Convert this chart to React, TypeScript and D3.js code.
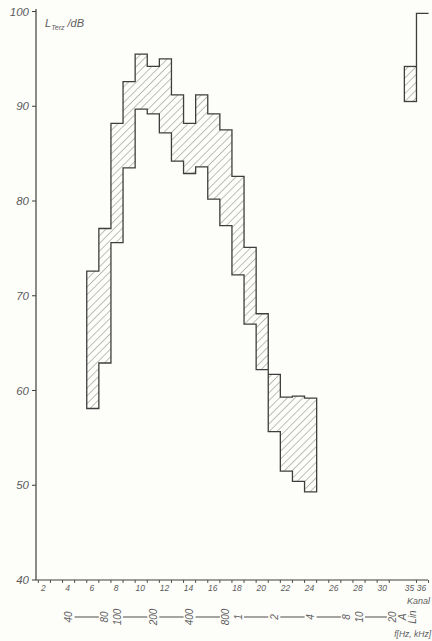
import React from "react";
import * as d3 from "d3";

// ---- data ----
const channels = [6, 7, 8, 9, 10, 11, 12, 13, 14, 15, 16, 17, 18, 19, 20, 21, 22, 23, 24];
const upperLevels = [72.6, 77.1, 88.2, 92.6, 95.5, 94.2, 95.0, 91.2, 88.2, 91.2, 89.2, 87.5, 82.6, 75.1, 68.1, 61.7, 59.3, 59.4, 59.2];
const lowerLevels = [58.1, 62.9, 75.6, 83.5, 89.7, 89.2, 87.2, 84.2, 82.9, 83.6, 80.2, 77.4, 72.2, 67.0, 62.2, 55.65, 51.5, 50.4, 49.3];
const weightedChannel = 35;
const weightedUpper = 94.2;
const weightedLower = 90.5;
const linChannel = 36;
const linUpper = 99.8;

const yTicks = [40, 50, 60, 70, 80, 90, 100];
const xTickLabels = [2, 4, 6, 8, 10, 12, 14, 16, 18, 20, 22, 24, 26, 28, 30, 35, 36];
const tickChannels = [1, 2, 3, 4, 5, 6, 7, 8, 9, 10, 11, 12, 13, 14, 15, 16, 17, 18, 19, 20, 21, 22, 23, 24, 25, 26, 27, 28, 29, 30, 35, 36];
const freqLabels = ["40", "80", "100", "200", "400", "800", "1", "2", "4", "8", "10", "20", "A", "Lin"];
const freqPositions = [4, 7, 8, 11, 14, 17, 18, 21, 24, 27, 28, 30.8, 31.6, 32.4];

const W = 432;
const H = 641;

// channel -> axis slot (gap between 30 and 35)
const slot = (k: number) => (k <= 30 ? k : k === 35 ? 32.25 : 33.25);

const x = d3.scaleLinear().domain([6, 24]).range([92.8, 310.6]);
const y = d3.scaleLinear().domain([40, 100]).range([580, 11.5]);

const FONT = "'Liberation Sans', 'DejaVu Sans', sans-serif";
const TEXT = "#5c5c5c";
const INK = "#3e3e3e";

export default function App() {
  // hatched band polygon
  const pts: [number, number][] = [];
  channels.forEach((k, i) => {
    pts.push([x(slot(k) - 0.5), y(upperLevels[i])]);
    pts.push([x(slot(k) + 0.5), y(upperLevels[i])]);
  });
  for (let i = channels.length - 1; i >= 0; i--) {
    const k = channels[i];
    pts.push([x(slot(k) + 0.5), y(lowerLevels[i])]);
    pts.push([x(slot(k) - 0.5), y(lowerLevels[i])]);
  }
  const line = d3.line<[number, number]>();
  const bandPath = line(pts) + "Z";

  const wx0 = x(slot(weightedChannel) - 0.5);
  const wx1 = x(slot(weightedChannel) + 0.5);
  const lx1 = x(slot(linChannel) + 0.5);

  const axisX = 36;
  const axisY = y(40);
  const freqY = 617;

  return (
    <svg
      width={W}
      height={H}
      viewBox={`0 0 ${W} ${H}`}
      style={{ position: "absolute", left: 0, top: 0, background: "#fdfdfa" }}
    >
      <defs>
        <pattern id="hatch" patternUnits="userSpaceOnUse" width="5.5" height="5.5" patternTransform="rotate(45)">
          <line x1="0" y1="0" x2="0" y2="5.5" stroke="#6f6f6f" strokeWidth="0.9" />
        </pattern>
      </defs>
      <rect width={W} height={H} fill="#fdfdfa" />

      {/* y axis */}
      <line x1={axisX} y1={9} x2={axisX} y2={axisY} stroke={INK} strokeWidth={1.2} />
      {yTicks.map((v) => (
        <g key={v}>
          <line x1={axisX - 4} x2={axisX} y1={y(v)} y2={y(v)} stroke={INK} strokeWidth={1} />
          <text
            x={axisX - 7}
            y={y(v) + 4}
            textAnchor="end"
            fontFamily={FONT}
            fontStyle="italic"
            fontSize={11.5}
            fill={TEXT}
          >
            {v}
          </text>
        </g>
      ))}
      <text x={45} y={27} fontFamily={FONT} fontStyle="italic" fontSize={11} fill={TEXT}>
        L
        <tspan fontSize={7} dy={3}>Terz</tspan>
        <tspan dy={-3}> /dB</tspan>
      </text>

      {/* x axis */}
      <line x1={axisX} y1={axisY} x2={428} y2={axisY} stroke={INK} strokeWidth={1.2} />
      {tickChannels.map((k) => (
        <line
          key={"t" + k}
          x1={x(slot(k) + 0.5)}
          x2={x(slot(k) + 0.5)}
          y1={axisY}
          y2={axisY + 3}
          stroke={INK}
          strokeWidth={0.9}
        />
      ))}
      {xTickLabels.map((k) => (
        <text
          key={"l" + k}
          x={x(slot(k)) - 1}
          y={591}
          textAnchor="middle"
          fontFamily={FONT}
          fontStyle="italic"
          fontSize={8.5}
          fill={TEXT}
        >
          {k}
        </text>
      ))}
      <text x={430} y={604} textAnchor="end" fontFamily={FONT} fontStyle="italic" fontSize={9} fill={TEXT}>
        Kanal
      </text>

      {/* frequency row */}
      {freqPositions.slice(0, -1).map((p, i) => {
        const a = x(p) + 6;
        const b = x(freqPositions[i + 1]) - 6;
        return b > a ? (
          <line key={"f" + i} x1={a} x2={b} y1={freqY} y2={freqY} stroke={TEXT} strokeWidth={1.1} />
        ) : null;
      })}
      {freqLabels.map((lab, i) => (
        <text
          key={"fl" + i}
          transform={`translate(${x(freqPositions[i]) + 3.5},${freqY}) rotate(-90)`}
          textAnchor="middle"
          fontFamily={FONT}
          fontStyle="italic"
          fontSize={10}
          fill={TEXT}
        >
          {lab}
        </text>
      ))}
      <text x={431} y={637} textAnchor="end" fontFamily={FONT} fontStyle="italic" fontSize={8.5} fill={TEXT}>
        f[Hz, kHz]
      </text>

      {/* hatched band */}
      <path d={bandPath} fill="url(#hatch)" stroke={INK} strokeWidth={1.3} strokeLinejoin="miter" />

      {/* channel 35 (A) bar and channel 36 line */}
      <rect
        x={wx0}
        y={y(weightedUpper)}
        width={wx1 - wx0}
        height={y(weightedLower) - y(weightedUpper)}
        fill="url(#hatch)"
        stroke={INK}
        strokeWidth={1.3}
      />
      <path
        d={`M${wx1},${y(weightedUpper)}V${y(linUpper)}H${lx1}`}
        fill="none"
        stroke={INK}
        strokeWidth={1.3}
      />
    </svg>
  );
}
